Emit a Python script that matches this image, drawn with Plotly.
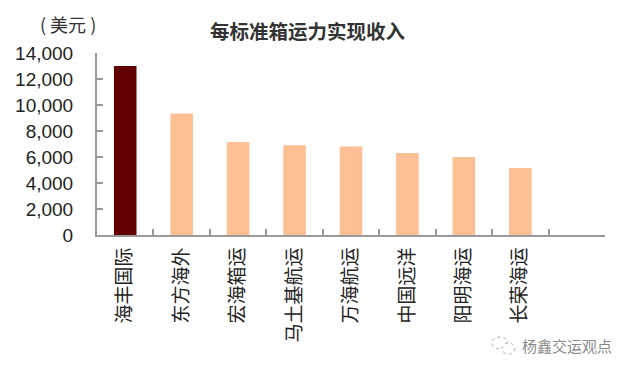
import plotly.graph_objects as go

categories = ["海丰国际", "东方海外", "宏海箱运", "马土基航运", "万海航运", "中国远洋", "阳明海运", "长荣海运", " "]
values = [13000, 9350, 7150, 6900, 6800, 6300, 6000, 5150, None]
colors = ["#600000"] + ["#FDBF94"] * 8
tick_vals = [0, 2000, 4000, 6000, 8000, 10000, 12000, 14000]
title = "每标准箱运力实现收入"
unit = "( 美元 )"
watermark = "杨鑫交运观点"

OFF = 8  # page body margin
W, H = 632 - OFF, 372 - OFF
L, R, T, B = 97 - OFF, 605 - OFF, 53 - OFF, 235 - OFF
CJK = "Noto Sans CJK SC, sans-serif"
LAT = "Liberation Sans, Arial, sans-serif"


def px(x):
    return (x - OFF - L) / (R - L)


def py(y):
    return (B - (y - OFF)) / (B - T)


fig = go.Figure(go.Bar(x=categories, y=values, marker=dict(color=colors, line_width=0), width=0.4))
fig.update_layout(
    width=W, height=H, autosize=False, showlegend=False,
    margin=dict(l=L, r=W - R, t=T, b=H - B),
    plot_bgcolor="white", paper_bgcolor="white",
    xaxis=dict(type="category", range=[-0.5, 8.5], automargin=False, showgrid=False, showline=True,
               linecolor="#9a9a9a", linewidth=2,
               tickson="boundaries", ticks="inside", ticklen=6, tickcolor="#9a9a9a", tickwidth=1.5,
               tickangle=-90, tickfont=dict(family=CJK, size=19, color="#222222"), ticklabelstandoff=3),
    yaxis=dict(range=[0, 14000], automargin=False, tickvals=tick_vals, tickformat=",d", showgrid=False, zeroline=False,
               showline=True, linecolor="#9a9a9a", linewidth=2, ticks="inside", ticklen=6,
               tickcolor="#9a9a9a", tickwidth=1.5, tickfont=dict(family=LAT, size=19, color="#222222"),
               ticklabelstandoff=18),
    annotations=[
        dict(text="<b>" + title + "</b>", xref="paper", yref="paper", x=px(308), y=py(31), showarrow=False,
             xanchor="center", yanchor="middle", font=dict(family=CJK, size=19.5, color="#333333")),
        dict(text=unit, xref="paper", yref="paper", x=px(68), y=py(24), showarrow=False,
             xanchor="center", yanchor="middle", font=dict(family=CJK, size=18, color="#333333")),
        dict(text=watermark, xref="paper", yref="paper", x=px(567), y=py(345), showarrow=False,
             xanchor="center", yanchor="middle", font=dict(family=CJK, size=15, color="#8a8a8a")),
    ],
    shapes=[
        dict(type="circle", xref="paper", yref="paper", x0=px(492), x1=px(508), y0=py(349), y1=py(337),
             line=dict(color="#aaaaaa", width=1, dash="dot")),
        dict(type="circle", xref="paper", yref="paper", x0=px(502), x1=px(515), y0=py(354), y1=py(343),
             fillcolor="white", line=dict(color="#aaaaaa", width=1, dash="dot")),
    ],
)
fig.write_html("out.html")
